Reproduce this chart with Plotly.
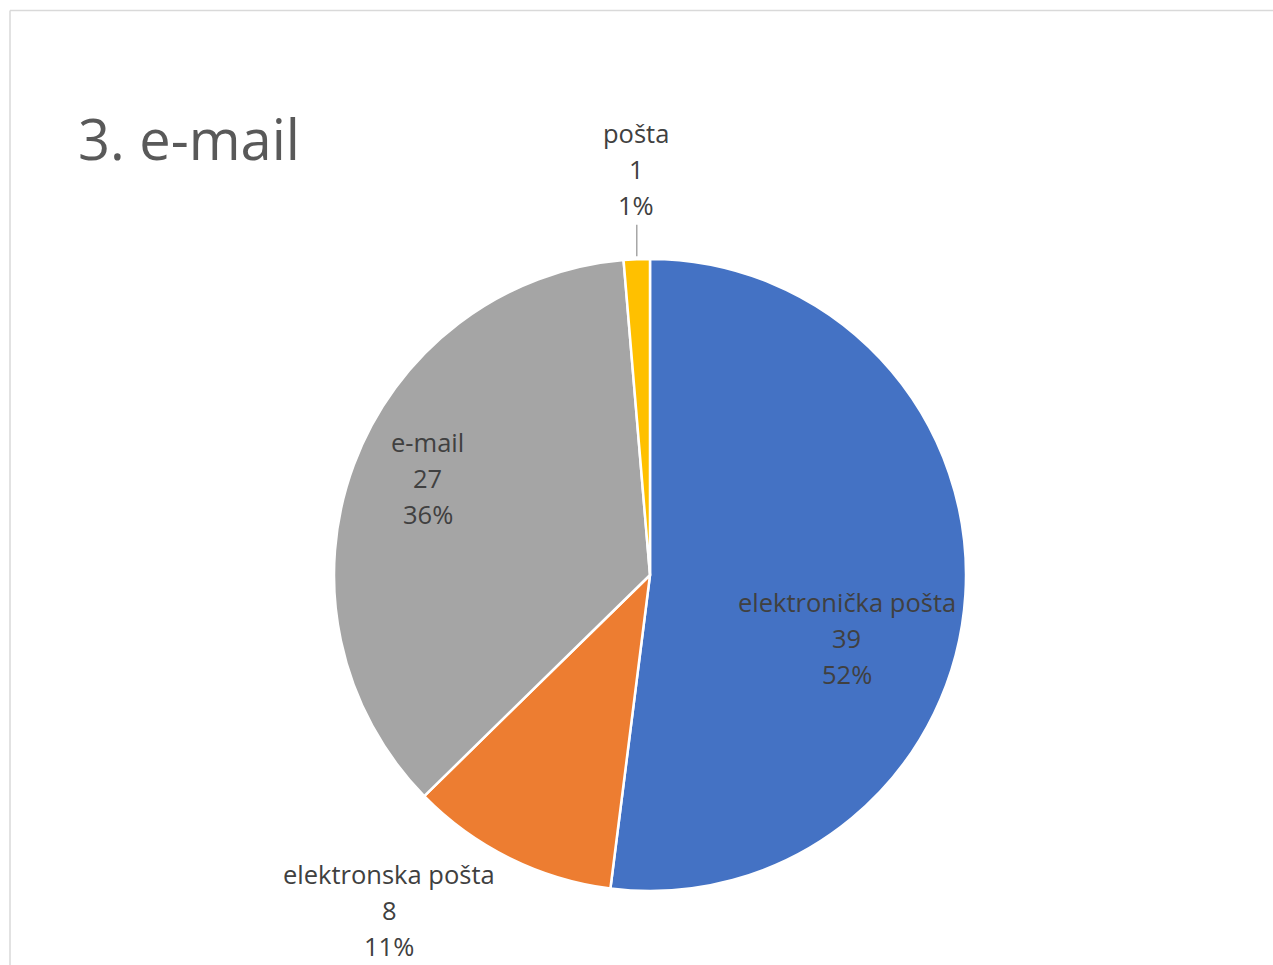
import math
import plotly.graph_objects as go

# ---- data ----
labels = ["elektronička pošta", "elektronska pošta", "e-mail", "pošta"]
values = [39, 8, 27, 1]
colors = ["#4472C4", "#ED7D31", "#A5A5A5", "#FFC000"]
title_text = "3. e-mail"

# ---- layout geometry (pixels) ----
W, H = 1273, 965
CX, CY, R = 650, 575, 316
# label placement style: radius factor and pixel nudges per slice
label_r = [0.62, 1.18, 0.76, 1.28]
label_dx = [1, -95, 3, 3]
label_dy = [51, 1, -13, -2]
LINE_GAP = 36
FONT = "Open Sans"
LABEL_SIZE = 25.5


def px(x):
    return x / W


def py(y):
    return 1 - y / H


total = sum(values)
fig = go.Figure()
fig.add_trace(go.Pie(
    labels=labels, values=values, sort=False, direction="clockwise", rotation=0,
    marker=dict(colors=colors, line=dict(color="white", width=2.5)),
    textinfo="none", hoverinfo="skip", showlegend=False,
    domain=dict(x=[px(CX - R), px(CX + R)], y=[py(CY + R), py(CY - R)]),
))

annotations = []
shapes = []
cum = 0
for i, (lab, v) in enumerate(zip(labels, values)):
    mid = (cum + v / 2) / total * 2 * math.pi
    cum += v
    r = label_r[i] * R
    lx = CX + r * math.sin(mid) + label_dx[i]
    ly = CY - r * math.cos(mid) + label_dy[i]
    lines = [lab, str(v), f"{round(100 * v / total)}%"]
    for k, t in enumerate(lines):
        annotations.append(dict(
            x=px(lx), y=py(ly + (k - 1) * LINE_GAP), xref="paper", yref="paper",
            text=t, showarrow=False, xanchor="center", yanchor="middle",
            font=dict(family=FONT, size=LABEL_SIZE, color="#404040"),
        ))
    if label_r[i] > 1.2:
        # leader line for small outside slice
        ex = CX + R * math.sin(mid)
        ey = CY - R * math.cos(mid)
        shapes.append(dict(type="line", xref="paper", yref="paper",
                           x0=px(ex), x1=px(ex), y0=py(ey - 3), y1=py(ly + LINE_GAP + 20),
                           line=dict(color="#A6A6A6", width=1.5)))

annotations.append(dict(
    x=px(76), y=py(138), xref="paper", yref="paper", text=title_text,
    showarrow=False, xanchor="left", yanchor="middle",
    font=dict(family=FONT, size=56, color="#595959"),
))

# chart border
shapes.append(dict(type="line", xref="paper", yref="paper",
                   x0=px(10), x1=px(W + 5), y0=py(10.5), y1=py(10.5),
                   line=dict(color="#D9D9D9", width=1.5)))
shapes.append(dict(type="line", xref="paper", yref="paper",
                   x0=px(10), x1=px(10), y0=py(10.5), y1=py(H + 5),
                   line=dict(color="#D9D9D9", width=1.5)))

fig.update_layout(
    width=W, height=H, margin=dict(l=0, r=0, t=0, b=0),
    paper_bgcolor="white", plot_bgcolor="white",
    annotations=annotations, shapes=shapes,
)

fig.write_html(
    "out.html",
    config={"displayModeBar": False, "staticPlot": True},
    post_script="document.body.style.margin='0';document.body.style.overflow='hidden';",
)
